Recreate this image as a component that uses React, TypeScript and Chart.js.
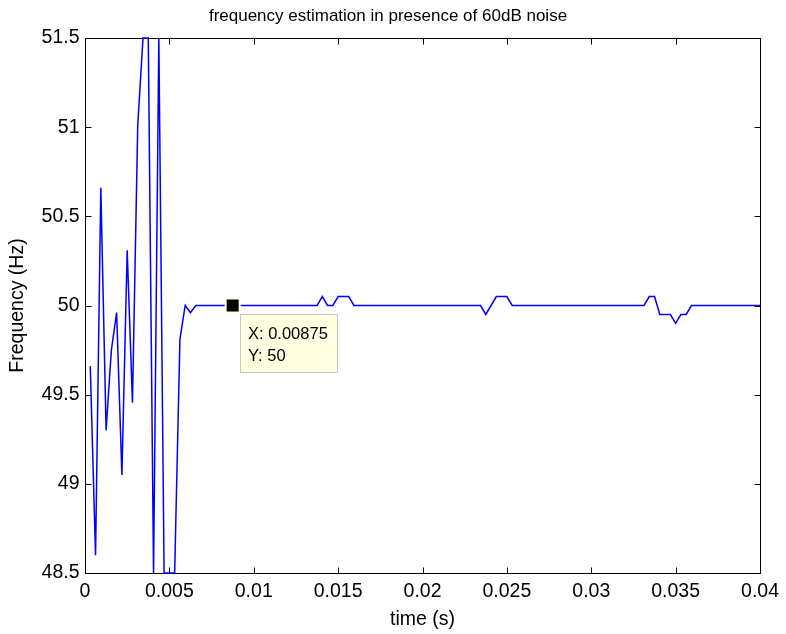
import { useEffect, useRef } from 'react';
import { Chart, registerables } from 'chart.js';

Chart.register(...registerables);

const FONT = '"Liberation Sans", Arial, Helvetica, sans-serif';

// sampling period of the estimator output (s); sample k is at k * samplePeriod
const samplePeriod = 0.0003125;

// estimated frequency (Hz), samples 1..128
const frequencyHz = [
  49.66, 48.6, 50.66, 49.3, 49.75, 49.96, 49.05, 50.31, 49.455, 51.01,
  51.5, 51.5, 48.5, 51.5, 48.5, 48.5, 48.5, 49.81, 50.0, 49.96,
  50, 50, 50, 50, 50, 50, 50, 50, 50, 50,
  50, 50, 50, 50, 50, 50, 50, 50, 50, 50,
  50, 50, 50, 50, 50.05, 50, 50, 50.05, 50.05, 50.05,
  50, 50, 50, 50, 50, 50, 50, 50, 50, 50,
  50, 50, 50, 50, 50, 50, 50, 50, 50, 50,
  50, 50, 50, 50, 50, 49.95, 50, 50.05, 50.05, 50.05,
  50, 50, 50, 50, 50, 50, 50, 50, 50, 50,
  50, 50, 50, 50, 50, 50, 50, 50, 50, 50,
  50, 50, 50, 50, 50, 50, 50.05, 50.05, 49.95, 49.95,
  49.95, 49.9, 49.95, 49.95, 50, 50, 50, 50, 50, 50,
  50, 50, 50, 50, 50, 50, 50, 50,
];

const xTickValues = [0, 0.005, 0.01, 0.015, 0.02, 0.025, 0.03, 0.035, 0.04];
const xTickLabels = ['0', '0.005', '0.01', '0.015', '0.02', '0.025', '0.03', '0.035', '0.04'];
const yTickValues = [48.5, 49, 49.5, 50, 50.5, 51, 51.5];
const yTickLabels = ['48.5', '49', '49.5', '50', '50.5', '51', '51.5'];

const dataTipX = 0.00875;
const dataTipY = 50;

const titleText = 'frequency estimation in presence of 60dB noise';
const xAxisTitle = 'time (s)';
const yAxisTitle = 'Frequency (Hz)';

const framePlugin = {
  id: 'matlabFrame',
  beforeDatasetsDraw(chart: any) {
    const { ctx, chartArea, scales } = chart;
    const { left, right, top, bottom } = chartArea;
    ctx.save();
    ctx.strokeStyle = '#000';
    ctx.lineWidth = 1;
    ctx.strokeRect(left + 0.5, top + 0.5, right - left, bottom - top);
    const tl = 6;
    ctx.beginPath();
    xTickValues.forEach((v) => {
      const px = Math.round(scales.x.getPixelForValue(v)) + 0.5;
      ctx.moveTo(px, bottom + 0.5);
      ctx.lineTo(px, bottom + 0.5 - tl);
      ctx.moveTo(px, top + 0.5);
      ctx.lineTo(px, top + 0.5 + tl);
    });
    yTickValues.forEach((v) => {
      const py = Math.round(scales.y.getPixelForValue(v)) + 0.5;
      ctx.moveTo(left + 0.5, py);
      ctx.lineTo(left + 0.5 + tl, py);
      ctx.moveTo(right + 0.5, py);
      ctx.lineTo(right + 0.5 - tl, py);
    });
    ctx.stroke();
    ctx.restore();
  },
};

const dataTipPlugin = {
  id: 'dataTip',
  afterDatasetsDraw(chart: any) {
    const { ctx, scales } = chart;
    const px = scales.x.getPixelForValue(dataTipX);
    const py = scales.y.getPixelForValue(dataTipY);
    ctx.save();
    // marker
    ctx.fillStyle = '#FFFFE1';
    ctx.fillRect(px - 8, py - 8, 16, 16);
    ctx.fillStyle = '#000';
    ctx.fillRect(px - 6, py - 6, 12, 12);
    // box
    const bx = Math.round(px + 7);
    const by = Math.round(py + 8);
    ctx.fillStyle = '#FFFFE1';
    ctx.fillRect(bx, by, 98, 59);
    ctx.strokeStyle = '#C8C8C0';
    ctx.lineWidth = 1;
    ctx.strokeRect(bx + 0.5, by + 0.5, 97, 58);
    ctx.fillStyle = '#000';
    ctx.font = `16.5px ${FONT}`;
    ctx.textBaseline = 'alphabetic';
    ctx.textAlign = 'left';
    ctx.fillText(`X: ${dataTipX}`, bx + 8, by + 25);
    ctx.fillText(`Y: ${dataTipY}`, bx + 8, by + 47);
    ctx.restore();
  },
};

export default function App() {
  const canvasRef = useRef<HTMLCanvasElement | null>(null);

  useEffect(() => {
    document.body.style.margin = '0';
    const canvas = canvasRef.current;
    if (!canvas) return;
    const points = frequencyHz.map((f, i) => ({ x: (i + 1) * samplePeriod, y: f }));
    const chart = new Chart(canvas, {
      type: 'line',
      data: {
        datasets: [
          {
            data: points,
            borderColor: '#0000FF',
            borderWidth: 1.5,
            pointRadius: 0,
            tension: 0,
            fill: false,
            clip: { left: 0, right: 0, top: 1, bottom: 1 } as any,
          },
        ],
      },
      options: {
        animation: false,
        responsive: true,
        maintainAspectRatio: false,
        events: [],
        layout: { padding: { left: 12, right: 22, top: 0, bottom: 0 } },
        plugins: {
          legend: { display: false },
          tooltip: { enabled: false },
          title: {
            display: true,
            text: titleText,
            color: '#000',
            font: { family: FONT, size: 17, weight: 'normal', lineHeight: 1.2 },
            padding: { top: 6, bottom: 11.6 },
          },
        },
        scales: {
          x: {
            type: 'linear',
            min: 0,
            max: 0.04,
            afterBuildTicks: (s: any) => {
              s.ticks = xTickValues.map((v) => ({ value: v }));
            },
            afterFit: (s: any) => {
              s.height = 61;
            },
            ticks: {
              callback: (v: any) => xTickLabels[xTickValues.indexOf(Number(v))] ?? '',
              color: '#000',
              font: { family: FONT, size: 19.5 },
              padding: 7,
              maxRotation: 0,
              autoSkip: false,
            },
            grid: { display: false, drawTicks: false },
            border: { display: false },
            title: {
              display: true,
              text: xAxisTitle,
              color: '#000',
              font: { family: FONT, size: 19.5, lineHeight: 1.2 },
              padding: { top: 0, bottom: 2.3 },
            },
          },
          y: {
            type: 'linear',
            min: 48.5,
            max: 51.5,
            afterBuildTicks: (s: any) => {
              s.ticks = yTickValues.map((v) => ({ value: v }));
            },
            afterFit: (s: any) => {
              s.width = 73;
            },
            ticks: {
              callback: (v: any) => yTickLabels[yTickValues.indexOf(Number(v))] ?? '',
              color: '#000',
              font: { family: FONT, size: 19.5 },
              padding: 5.5,
              autoSkip: false,
            },
            grid: { display: false, drawTicks: false },
            border: { display: false },
            title: {
              display: true,
              text: yAxisTitle,
              color: '#000',
              font: { family: FONT, size: 19.5, lineHeight: 1.2 },
              padding: { top: -6.2, bottom: 0 },
            },
          },
        },
      } as any,
      plugins: [framePlugin, dataTipPlugin],
    });
    return () => chart.destroy();
  }, []);

  return (
    <div style={{ width: 786, height: 634, position: 'relative' }}>
      <canvas ref={canvasRef} />
    </div>
  );
}
